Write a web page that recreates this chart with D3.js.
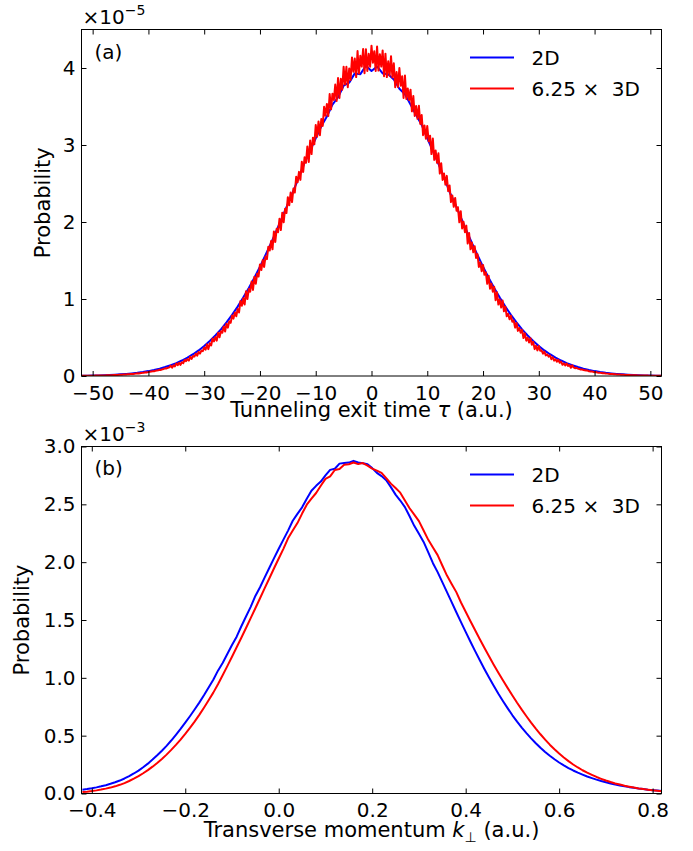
<!DOCTYPE html>
<html>
<head>
<meta charset="utf-8">
<script src="https://cdn.jsdelivr.net/npm/d3@7"></script>
<style>
  body { margin: 0; background: #fff; }
  svg { font-family: 'DejaVu Sans', sans-serif; }
</style>
</head>
<body>
<svg id="chart" width="693" height="851"></svg>
<script>
// ---- panel (a): tunneling exit time, values in units of 1e-5 ----
const tauTicks = [-50, -40, -30, -20, -10, 0, 10, 20, 30, 40, 50];
const probTicksA = [0, 1, 2, 3, 4];
const tauStart = -52;
const tauStep2D = 1;
const tauStep3D = 0.25;

// 2D, tau = -52 .. 52 every 1
const tau2D = [
  0.0037, 0.0048, 0.0062, 0.0080, 0.0103, 0.0131, 0.0168, 0.0212, 0.0267, 0.0334, 0.0416, 0.0516,
  0.0635, 0.078, 0.095, 0.116, 0.140, 0.168, 0.201, 0.239, 0.283, 0.332, 0.390,
  0.454, 0.526, 0.606, 0.696, 0.794, 0.901, 1.018, 1.143, 1.277, 1.420, 1.571, 1.729, 1.893, 2.063,
  2.234, 2.408, 2.583, 2.770, 2.925, 3.086, 3.243, 3.370, 3.524, 3.62, 3.77, 3.81, 3.93, 3.92, 4.03,
  3.96,
  4.02, 3.93, 3.92, 3.85, 3.73, 3.66, 3.524, 3.390, 3.260, 3.086, 2.925, 2.756, 2.583, 2.390, 2.234,
  2.063, 1.893, 1.729, 1.571, 1.420, 1.277, 1.143, 1.018, 0.901, 0.794, 0.696, 0.606, 0.526, 0.454,
  0.390, 0.332, 0.283, 0.239, 0.201, 0.168, 0.140, 0.116, 0.095, 0.078, 0.0635, 0.0516,
  0.0416, 0.0334, 0.0267, 0.0212, 0.0168, 0.0131, 0.0103, 0.0080, 0.0062, 0.0048, 0.0037
];

// 6.25 x 3D, tau = -52 .. 52 every 0.25 (noisy Monte Carlo curve)
const tau3D = [
  // -52 .. -36.25
  0.0025, 0.0027, 0.0030, 0.0031, 0.0033, 0.0036, 0.0040, 0.0041, 0.0043, 0.0047, 0.0050, 0.0054, 0.0057, 0.0062, 0.0066, 0.0070,
  0.0074, 0.0080, 0.0085, 0.0091, 0.0096, 0.0103, 0.0110, 0.0117, 0.0124, 0.0132, 0.0140, 0.0150, 0.0159, 0.0169, 0.0180, 0.0192,
  0.0204, 0.0235, 0.0215, 0.0245, 0.0259, 0.0275, 0.0290, 0.0308, 0.0345, 0.0330, 0.0370, 0.0390, 0.0409, 0.0435, 0.0485, 0.0470,
  0.0510, 0.054, 0.057, 0.0625, 0.0610, 0.067, 0.071, 0.0745, 0.081, 0.079, 0.087, 0.0915, 0.100, 0.098, 0.107, 0.1125,
  // -36 .. 0
  0.134, 0.107, 0.139, 0.125, 0.163, 0.140, 0.172, 0.145, 0.179, 0.167, 0.208, 0.193, 0.220, 0.200, 0.248, 0.222,
  0.259, 0.252, 0.290, 0.264, 0.312, 0.291, 0.330, 0.323, 0.369,
  0.342, 0.411, 0.349, 0.425, 0.397, 0.486, 0.449, 0.507, 0.459, 0.563, 0.502, 0.581, 0.561, 0.642, 0.577, 0.680,
  0.628, 0.710, 0.690, 0.786, 0.745, 0.826, 0.776,
  0.871, 0.825, 0.974, 0.912, 1.009, 0.928, 1.102, 0.999, 1.129, 1.095, 1.227, 1.118, 1.288, 1.197, 1.331, 1.292,
  1.449, 1.376, 1.505, 1.416, 1.553, 1.518, 1.679, 1.630,
  1.753, 1.645, 1.878, 1.740, 1.913, 1.867, 2.042, 1.896, 2.121, 1.996, 2.171, 2.116, 2.322, 2.217, 2.383, 2.259,
  2.435, 2.382, 2.589, 2.515, 2.651, 2.547, 2.783, 2.649,
  2.840, 2.768, 2.982, 2.780, 3.059, 2.882, 3.095, 3.009, 3.260, 3.108, 3.306, 3.127, 3.337, 3.247, 3.496, 3.379,
  3.534, 3.377, 3.661, 3.463, 3.667, 3.584, 3.786, 3.571,
  3.869, 3.610, 3.860, 3.718, 4.017, 3.788, 4.016, 3.751, 3.994, 3.845, 4.137, 3.951, 4.122, 3.882, 4.220, 3.927,
  4.160, 4.018, 4.248, 3.932, 4.245, 3.961, 4.185, 4.017, 4.290,
  // 0.25 .. 36
  4.068, 4.219, 3.961, 4.279, 3.966, 4.180, 4.018, 4.228, 3.893, 4.186, 3.882, 4.088, 3.900, 4.154, 3.879, 4.062,
  3.751, 3.948, 3.754, 4.000, 3.769, 3.894, 3.610, 3.903,
  3.597, 3.734, 3.584, 3.719, 3.437, 3.635, 3.377, 3.508, 3.340, 3.509, 3.273, 3.389, 3.127, 3.254, 3.082, 3.247,
  3.048, 3.121, 2.882, 3.085, 2.806, 2.930, 2.768, 2.892,
  2.629, 2.763, 2.547, 2.631, 2.485, 2.599, 2.402, 2.475, 2.259, 2.343, 2.197, 2.312, 2.146, 2.191, 1.996, 2.141,
  1.916, 2.002, 1.867, 1.953, 1.720, 1.858, 1.645, 1.733,
  1.607, 1.686, 1.533, 1.583, 1.416, 1.475, 1.361, 1.442, 1.315, 1.346, 1.197, 1.303, 1.133, 1.197, 1.095, 1.159,
  0.984, 1.087, 0.928, 0.994, 0.889, 0.981, 0.840, 0.901,
  0.776, 0.808, 0.736, 0.782, 0.704, 0.719, 0.628, 0.689, 0.586, 0.624, 0.561, 0.599, 0.493, 0.554, 0.459, 0.498,
  0.435, 0.490, 0.406, 0.443, 0.349, 0.393, 0.333, 0.390,
  0.329, 0.334, 0.291, 0.316, 0.268, 0.282, 0.252, 0.267, 0.218, 0.244, 0.200, 0.216, 0.187, 0.210, 0.171, 0.187,
  0.145, 0.164, 0.136, 0.161, 0.131, 0.143, 0.107, 0.138,
  // 36.25 .. 52
  0.1125, 0.101, 0.106, 0.096, 0.0915, 0.083, 0.086, 0.078, 0.0745, 0.071, 0.070, 0.061, 0.060, 0.057, 0.054, 0.048,
  0.051, 0.046, 0.0435, 0.0409, 0.039, 0.035, 0.036, 0.0325, 0.0308, 0.029, 0.0275, 0.0259, 0.0245, 0.023, 0.0217, 0.0204,
  0.0192, 0.018, 0.0169, 0.0159, 0.015, 0.014, 0.0132, 0.0124, 0.0117, 0.011, 0.0103, 0.0096, 0.0091, 0.0085, 0.008, 0.0074,
  0.007, 0.0066, 0.0062, 0.0057, 0.0054, 0.005, 0.0047, 0.0043, 0.0041, 0.004, 0.0036, 0.0033, 0.0031, 0.003, 0.0027, 0.0025
];

// ---- panel (b): transverse momentum, values in units of 1e-3 ----
const kTicks = [-0.4, -0.2, 0.0, 0.2, 0.4, 0.6, 0.8];
const probTicksB = [0.0, 0.5, 1.0, 1.5, 2.0, 2.5, 3.0];
const kStart = -0.42;
const kStep = 0.01;

// 2D, k = -0.42 .. 0.82 every 0.01
const k2D = [
  0.032, 0.038, 0.045, 0.053, 0.062, 0.072, 0.084, 0.097, 0.112, 0.130, 0.150, 0.173, 0.198, 0.227,
  0.258, 0.293, 0.330, 0.370, 0.412, 0.458, 0.507, 0.558, 0.612, 0.668, 0.726, 0.786, 0.849, 0.916,
  0.984, 1.062, 1.129, 1.206, 1.284, 1.356, 1.446, 1.530, 1.614, 1.708, 1.783, 1.868, 1.952, 2.035,
  2.116, 2.195, 2.273, 2.358, 2.418, 2.474, 2.548, 2.618, 2.660, 2.697, 2.750, 2.798, 2.808, 2.852,
  2.857, 2.861, 2.876, 2.862, 2.856, 2.846, 2.813, 2.772, 2.744, 2.708, 2.649, 2.584, 2.533, 2.476,
  2.397, 2.314, 2.246, 2.175, 2.084, 1.991, 1.914, 1.828, 1.741, 1.654, 1.567, 1.481, 1.397, 1.314,
  1.233, 1.154, 1.077, 1.003, 0.932, 0.863, 0.798, 0.736, 0.676, 0.621, 0.570, 0.522, 0.477, 0.435,
  0.395, 0.359, 0.326, 0.296, 0.268, 0.243, 0.220, 0.199, 0.180, 0.163, 0.147, 0.133, 0.120, 0.108,
  0.097, 0.087, 0.078, 0.070, 0.062, 0.055, 0.049, 0.043, 0.038, 0.033, 0.029, 0.025, 0.021
];

// 6.25 x 3D, same grid
const k3D = [
  0.012, 0.016, 0.021, 0.027, 0.034, 0.042, 0.051, 0.062, 0.075, 0.090, 0.108, 0.128, 0.150, 0.175,
  0.202, 0.232, 0.264, 0.299, 0.336, 0.377, 0.420, 0.466, 0.515, 0.567, 0.622, 0.680, 0.742, 0.806,
  0.872, 0.945, 1.022, 1.101, 1.182, 1.264, 1.346, 1.431, 1.516, 1.602, 1.688, 1.775, 1.861, 1.947,
  2.032, 2.115, 2.206, 2.273, 2.338, 2.420, 2.497, 2.550, 2.598, 2.661, 2.720, 2.741, 2.797, 2.806,
  2.842, 2.847, 2.862, 2.848, 2.857, 2.835, 2.809, 2.792, 2.772, 2.727, 2.679, 2.641, 2.601, 2.534,
  2.466, 2.411, 2.355, 2.274, 2.193, 2.127, 2.061, 1.971, 1.884, 1.812, 1.741, 1.651, 1.571, 1.492,
  1.413, 1.336, 1.260, 1.186, 1.114, 1.044, 0.976, 0.911, 0.848, 0.785, 0.725, 0.668, 0.613, 0.561,
  0.512, 0.466, 0.422, 0.382, 0.345, 0.311, 0.280, 0.251, 0.225, 0.201, 0.180, 0.161, 0.143, 0.127,
  0.112, 0.099, 0.087, 0.077, 0.067, 0.059, 0.051, 0.044, 0.038, 0.033, 0.028, 0.024, 0.020
];

const seriesNames = ['2D', '6.25 \u00d7  3D'];
const seriesColors = ['#0000ff', '#ff0000'];

const toPoints = (vals, start, step) => vals.map((v, i) => [start + i * step, v]);

const svg = d3.select('#chart');
const margin = { left: 81.5, right: 31.5 };
const innerWidth = 693 - margin.left - margin.right;

const drawPanel = (props) => {
  const {
    top, height, xDomain, yDomain, xTicks, yTicks, xFmt, yFmt,
    lines, tag, tagY, expo, ylabelX, xlabelY, xlabel, id
  } = props;

  const g = svg.append('g').attr('transform', `translate(${margin.left}, ${top})`);

  const xScale = d3.scaleLinear().domain(xDomain).range([0, innerWidth]);
  const yScale = d3.scaleLinear().domain(yDomain).range([height, 0]);

  g.append('clipPath').attr('id', id)
    .append('rect').attr('width', innerWidth).attr('height', height);

  const line = d3.line()
    .x(d => xScale(d[0]))
    .y(d => yScale(d[1]));

  g.append('g').attr('clip-path', `url(#${id})`)
    .selectAll('path').data(lines)
    .enter().append('path')
      .attr('d', d => line(d.points))
      .attr('fill', 'none')
      .attr('stroke', d => d.color)
      .attr('stroke-width', 2)
      .attr('stroke-linejoin', 'round');

  const tickConfig = AxisG => {
    AxisG.selectAll('.domain').remove();
    AxisG.selectAll('line').attr('stroke', '#000').attr('stroke-width', 1);
    AxisG.selectAll('text')
      .attr('font-size', 20)
      .attr('fill', '#000')
      .attr('font-family', 'DejaVu Sans');
  };

  g.append('g')
    .attr('transform', `translate(0, ${height})`)
    .call(d3.axisBottom(xScale).tickValues(xTicks).tickFormat(xFmt)
      .tickSizeInner(-5).tickSizeOuter(0).tickPadding(9.4))
    .call(tickConfig);
  g.append('g')
    .call(d3.axisTop(xScale).tickValues(xTicks).tickFormat('')
      .tickSizeInner(-5).tickSizeOuter(0))
    .call(tickConfig);
  g.append('g')
    .call(d3.axisLeft(yScale).tickValues(yTicks).tickFormat(yFmt)
      .tickSizeInner(-5).tickSizeOuter(0).tickPadding(6))
    .call(tickConfig);
  g.append('g')
    .attr('transform', `translate(${innerWidth}, 0)`)
    .call(d3.axisRight(yScale).tickValues(yTicks).tickFormat('')
      .tickSizeInner(-5).tickSizeOuter(0))
    .call(tickConfig);

  g.append('rect')
    .attr('width', innerWidth)
    .attr('height', height)
    .attr('fill', 'none')
    .attr('stroke', '#000')
    .attr('stroke-width', 1);

  // offset text above the frame
  const ex = g.append('text')
    .attr('x', 1)
    .attr('y', -5.5)
    .attr('font-size', 20);
  ex.append('tspan').text('\u00d710');
  ex.append('tspan').attr('font-size', 14).attr('dy', -9).text(expo);

  g.append('text')
    .attr('x', 13)
    .attr('y', tagY)
    .attr('font-size', 20)
    .text(tag);

  // legend
  const legend = g.append('g').attr('transform', 'translate(388.5, 28)');
  const rows = legend.selectAll('g').data(lines)
    .enter().append('g')
      .attr('transform', (d, i) => `translate(0, ${i * 31})`);
  rows.append('line')
    .attr('x1', 0).attr('x2', 44)
    .attr('stroke', d => d.color)
    .attr('stroke-width', 2);
  rows.append('text')
    .attr('x', 61.5)
    .attr('dy', '0.36em')
    .attr('font-size', 20)
    .style('white-space', 'pre')
    .text(d => d.name);

  g.append('text')
    .attr('transform', `translate(${ylabelX}, ${height / 2}) rotate(-90)`)
    .attr('text-anchor', 'middle')
    .attr('dy', '0.35em')
    .attr('font-size', 21)
    .text('Probability');

  const xl = g.append('text')
    .attr('x', innerWidth / 2)
    .attr('y', xlabelY)
    .attr('text-anchor', 'middle')
    .attr('font-size', 21);
  xlabel(xl);
};

drawPanel({
  id: 'clip-a',
  top: 29.5,
  height: 346.5,
  xDomain: [-52, 52],
  yDomain: [0, 4.5],
  xTicks: tauTicks,
  yTicks: probTicksA,
  xFmt: d3.format('d'),
  yFmt: d3.format('d'),
  tag: '(a)',
  tagY: 29,
  expo: '\u22125',
  ylabelX: 43 - 81.5,
  xlabelY: 417 - 29.5,
  lines: [
    { name: seriesNames[0], color: seriesColors[0], points: toPoints(tau2D, tauStart, tauStep2D) },
    { name: seriesNames[1], color: seriesColors[1], points: toPoints(tau3D, tauStart, tauStep3D) }
  ],
  xlabel: t => {
    t.append('tspan').text('Tunneling exit time ');
    t.append('tspan').attr('font-style', 'italic').text('\u03c4');
    t.append('tspan').text(' (a.u.)');
  }
});

drawPanel({
  id: 'clip-b',
  top: 446.5,
  height: 347,
  xDomain: [-0.422, 0.819],
  yDomain: [0, 3.0],
  xTicks: kTicks,
  yTicks: probTicksB,
  xFmt: d3.format('.1f'),
  yFmt: d3.format('.1f'),
  tag: '(b)',
  tagY: 28,
  expo: '\u22123',
  ylabelX: 22 - 81.5,
  xlabelY: 837 - 446.5,
  lines: [
    { name: seriesNames[0], color: seriesColors[0], points: toPoints(k2D, kStart, kStep) },
    { name: seriesNames[1], color: seriesColors[1], points: toPoints(k3D, kStart, kStep) }
  ],
  xlabel: t => {
    t.append('tspan').text('Transverse momentum ');
    t.append('tspan').attr('font-style', 'italic').text('k');
    t.append('tspan').attr('font-size', 14).attr('dy', 5).attr('font-family', 'DejaVu Sans').text('\u22a5');
    t.append('tspan').attr('dy', -5).text(' (a.u.)');
  }
});
</script>
</body>
</html>
